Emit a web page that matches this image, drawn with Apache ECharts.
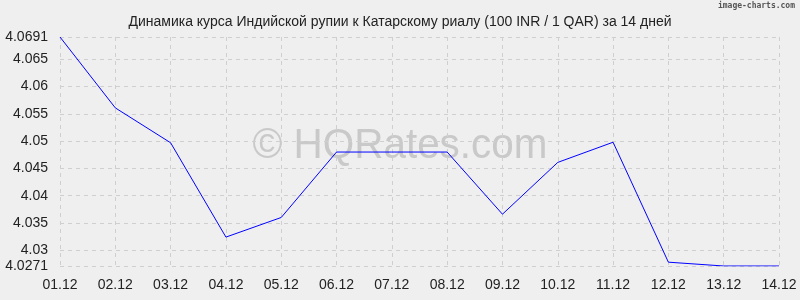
<!DOCTYPE html>
<html>
<head>
<meta charset="utf-8">
<script src="https://cdn.jsdelivr.net/npm/echarts@6/dist/echarts.min.js"></script>
<style>
html,body{margin:0;padding:0;background:#efefef;}
#c{width:800px;height:300px;}
</style>
</head>
<body>
<div id="c"></div>
<script>
const categories = ['01.12','02.12','03.12','04.12','05.12','06.12','07.12','08.12','09.12','10.12','11.12','12.12','13.12','14.12'];
const rates = [4.0691, 4.0561, 4.0497, 4.0324, 4.0360, 4.0480, 4.0480, 4.0480, 4.0366, 4.0461, 4.0498, 4.0278, 4.0271, 4.0271];
const yTicks = [4.0271, 4.03, 4.035, 4.04, 4.045, 4.05, 4.055, 4.06, 4.065, 4.0691];
const yMin = 4.0271, yMax = 4.0691;
const titleText = 'Динамика курса Индийской рупии к Катарскому риалу (100 INR / 1 QAR) за 14 дней';

const chart = echarts.init(document.getElementById('c'), null, {renderer:'canvas'});
const gridStyle = {color:'#cfcfcf', type:[4,4], width:1};
chart.setOption({
  backgroundColor:'#efefef',
  animation:false,
  title:{
    text:titleText, left:'center', top:10,
    textStyle:{fontFamily:'Liberation Sans, Arial', fontSize:14, fontWeight:'normal', color:'#222'}
  },
  graphic:[
    {type:'text', x:400, y:146, z:-1, silent:true, scaleX:0.94,
     style:{text:'© HQRates.com', font:'43px "Liberation Sans", Arial', fill:'#c9c9c9',
            textAlign:'center', textVerticalAlign:'middle'}},
    {type:'text', right:5, top:2,
     style:{text:'image-charts.com', font:'bold 8px "DejaVu Sans Mono", monospace', fill:'#555'}}
  ],
  grid:{left:60, right:21, top:37, bottom:34, containLabel:false},
  xAxis:{
    type:'category', data:categories, boundaryGap:false,
    axisLine:{show:false}, axisTick:{show:false},
    axisLabel:{interval:0, margin:12, fontFamily:'Liberation Sans, Arial', fontSize:14, color:'#222'},
    splitLine:{show:true, interval:0, lineStyle:gridStyle}
  },
  yAxis:{
    type:'value', min:yMin, max:yMax,
    axisLine:{show:false},
    axisTick:{show:false, customValues:yTicks},
    axisLabel:{customValues:yTicks, margin:12, fontFamily:'Liberation Sans, Arial', fontSize:14, color:'#222',
      formatter:v=>String(parseFloat(v.toFixed(4)))},
    splitLine:{show:true, lineStyle:gridStyle}
  },
  series:[{
    type:'line', data:rates, showSymbol:false, symbol:'none',
    lineStyle:{color:'#0000ff', width:1}, z:5
  }]
});
</script>
</body>
</html>
